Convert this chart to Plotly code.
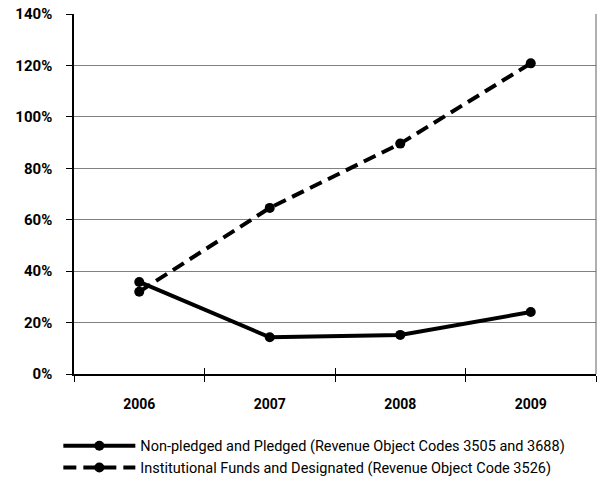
import plotly.graph_objects as go

years = ["2006", "2007", "2008", "2009"]
pledged = [35.8, 14.3, 15.2, 24.1]
institutional = [32.0, 64.6, 89.6, 120.8]
names = [
    "Non-pledged and Pledged (Revenue Object Codes 3505 and 3688)",
    "Institutional Funds and Designated (Revenue Object Code 3526)",
]
y_ticks = [0, 20, 40, 60, 80, 100, 120, 140]

FONT = "Roboto, Lato, sans-serif"

fig = go.Figure()
fig.add_trace(go.Scatter(
    x=years, y=pledged, name=names[0], mode="lines+markers",
    line=dict(color="black", width=4),
    marker=dict(color="black", size=10),
))
fig.add_trace(go.Scatter(
    x=years, y=institutional, name=names[1], mode="lines+markers",
    line=dict(color="black", width=4, dash="13px,7px"),
    marker=dict(color="black", size=10),
))
# helper trace so the overlay axis (inside ticks) is drawn
fig.add_trace(go.Scatter(
    x=years, y=pledged, xaxis="x2", mode="none", showlegend=False, hoverinfo="skip",
))

fig.update_layout(
    width=597, height=482,
    margin=dict(l=74, r=1, t=14, b=108, autoexpand=False),
    plot_bgcolor="white", paper_bgcolor="white",
    font=dict(family=FONT, size=14, color="black"),
    xaxis=dict(
        type="category", tickson="boundaries", ticks="outside", ticklen=6,
        tickcolor="black", showline=True, linecolor="black", linewidth=1.5,
        showgrid=False, tickfont=dict(size=14, family=FONT, weight="bold"),
        range=[-0.5, 3.5], ticklabelstandoff=16,
    ),
    xaxis2=dict(
        type="category", overlaying="x", matches="x", tickson="boundaries",
        ticks="inside", ticklen=6, tickcolor="black", showticklabels=False,
        showgrid=False, showline=False, zeroline=False,
    ),
    yaxis=dict(
        range=[0, 140], tickvals=y_ticks, ticktext=[f"{v}%" for v in y_ticks],
        ticks="outside", ticklen=6, tickcolor="black",
        showline=True, linecolor="black", linewidth=1.5,
        showgrid=True, gridcolor="#808080", gridwidth=1, zeroline=False,
        tickfont=dict(size=15, family=FONT, weight="bold"), ticklabelstandoff=11,
    ),
    legend=dict(
        orientation="v", x=-0.03, xanchor="left", y=-0.155, yanchor="top",
        font=dict(size=14.5, family=FONT), itemwidth=72, tracegroupgap=0,
        bgcolor="rgba(0,0,0,0)",
    ),
    shapes=[dict(type="line", xref="paper", yref="paper", x0=1, x1=1, y0=0, y1=1,
                 line=dict(color="#606060", width=1))],
    showlegend=True,
)

fig.write_html("out.html")
